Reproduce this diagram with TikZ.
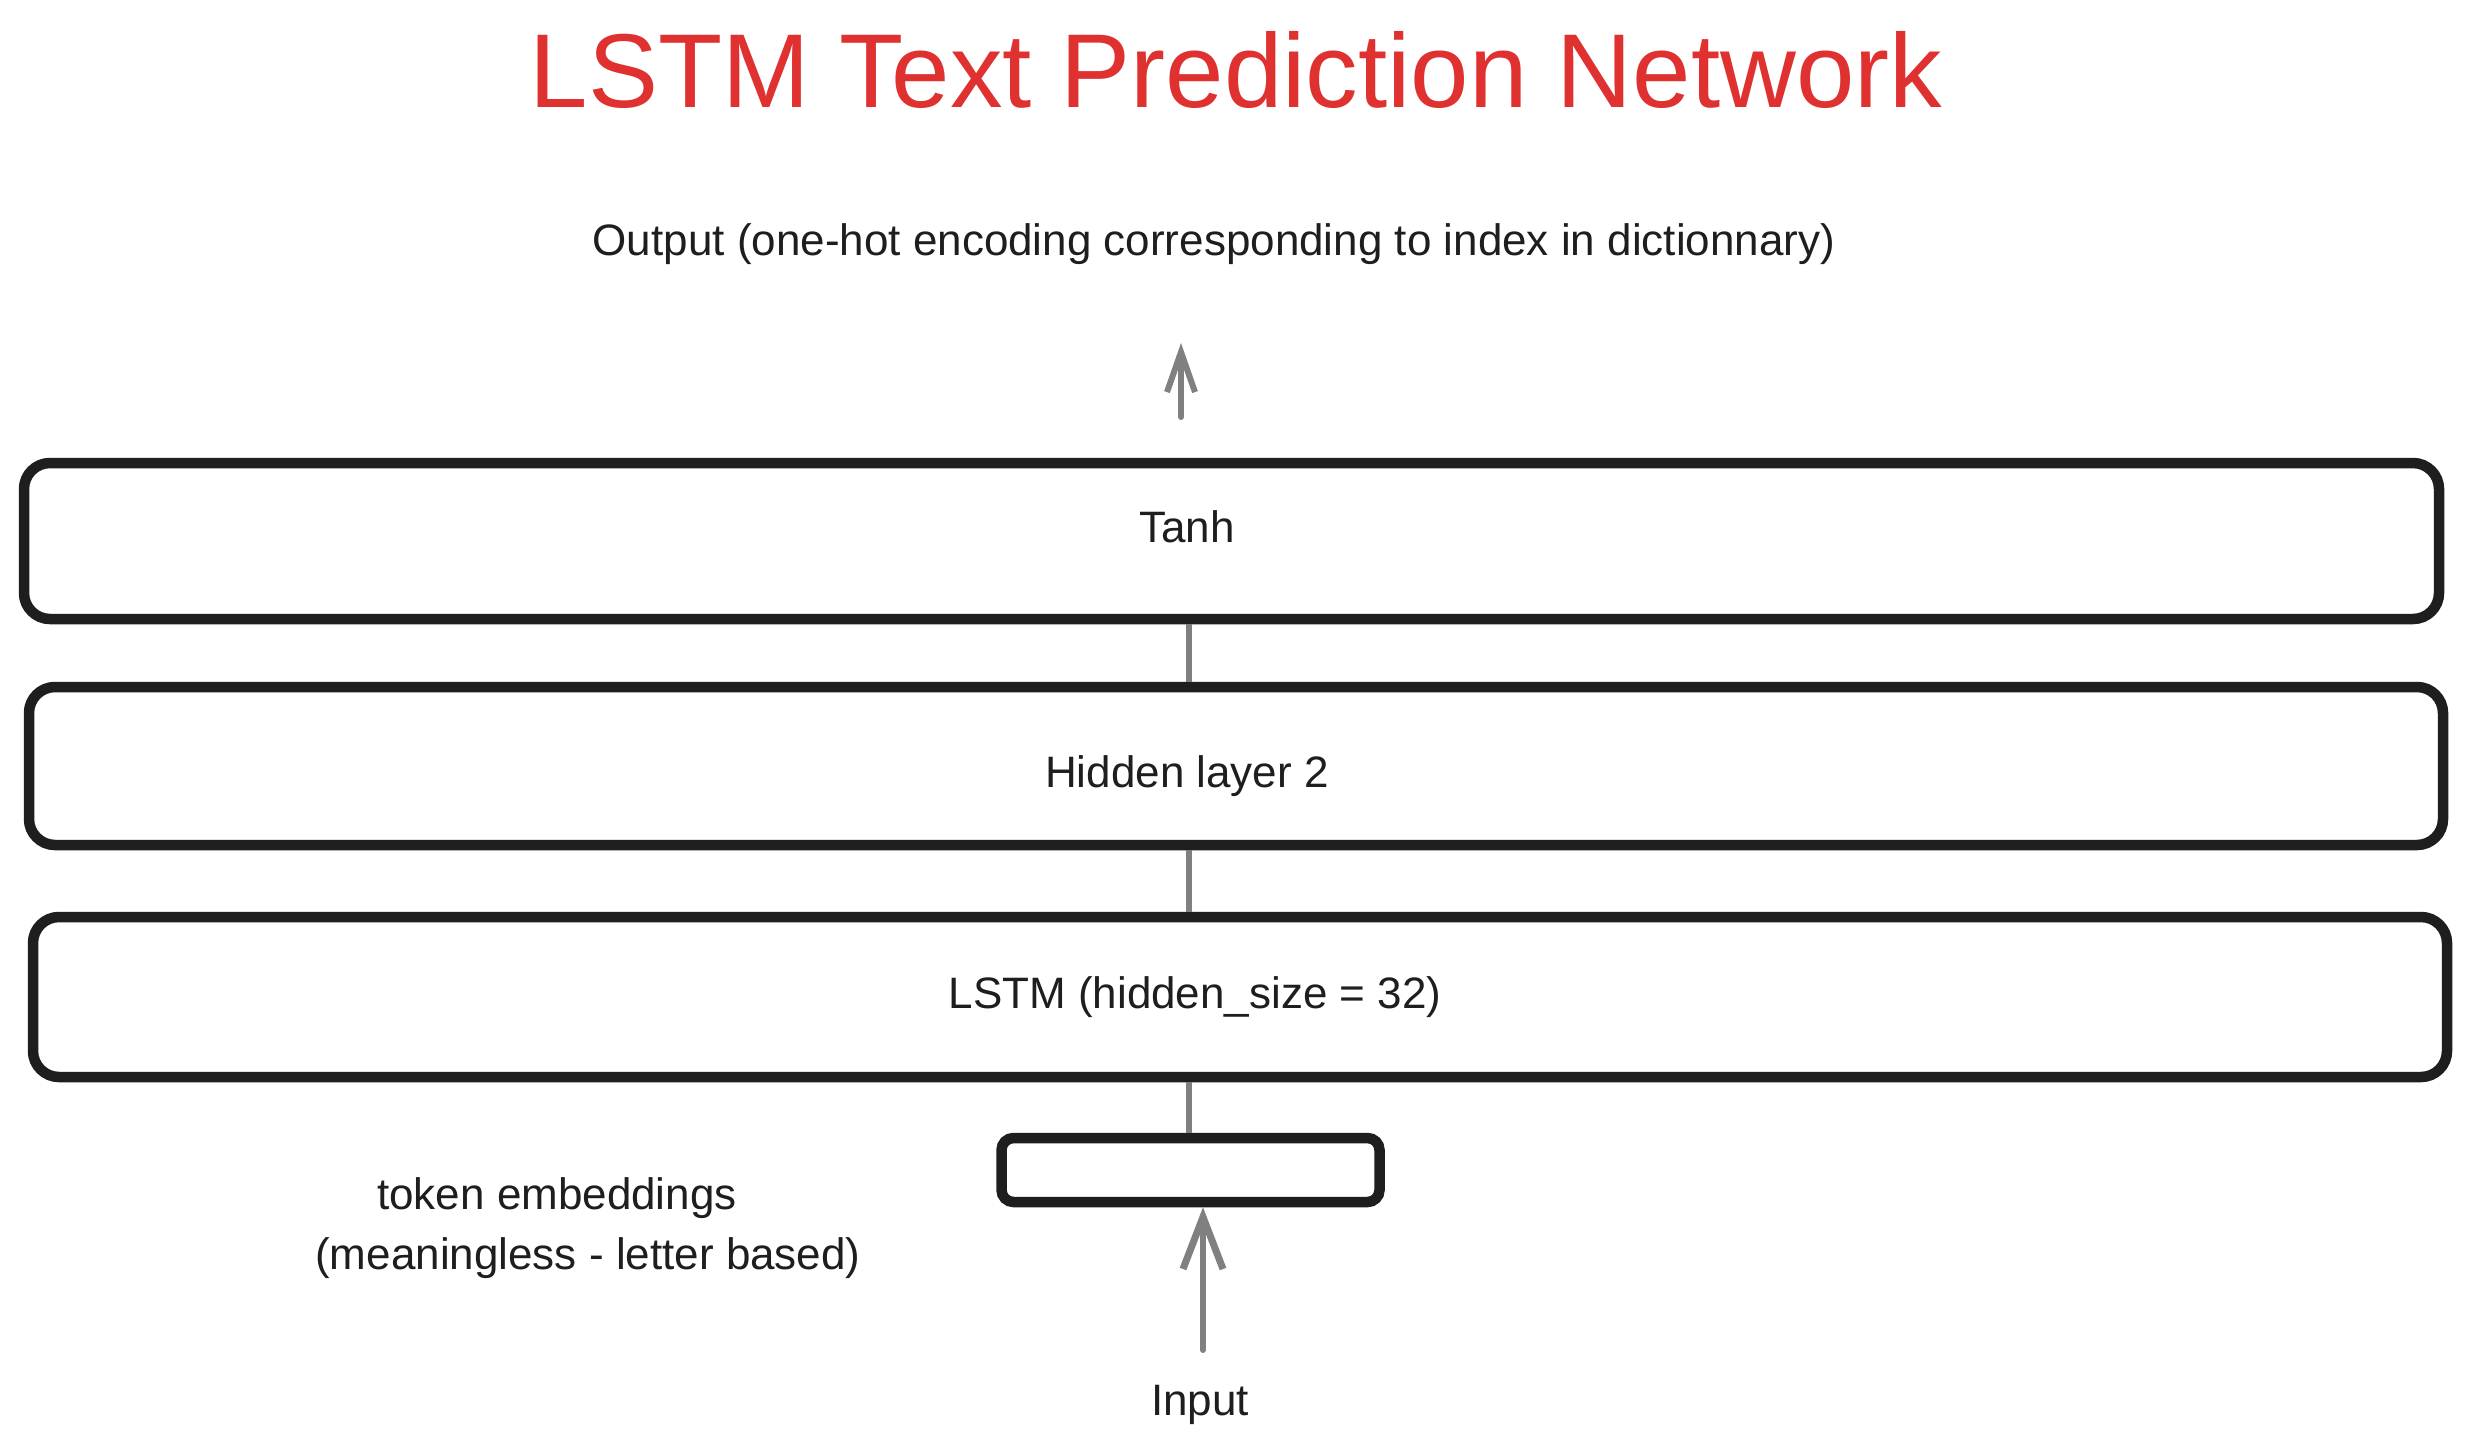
\documentclass[tikz,border=0pt]{standalone}
\usepackage{fontspec}
\setmainfont{Liberation Sans}
\usetikzlibrary{arrows.meta}
\definecolor{ink}{HTML}{1E1E1E}
\definecolor{titlered}{HTML}{E03131}
\definecolor{arrowgray}{HTML}{808080}
\begin{document}
\begin{tikzpicture}[x=1pt,y=-1pt,
  layer/.style={draw=ink, line width=10.5pt, rounded corners=26pt, rectangle, inner sep=0pt, fill=white},
  lbl/.style={text=ink, font=\fontsize{44}{52}\selectfont, anchor=base, inner sep=0pt},
  titletext/.style={text=titlered, font=\fontsize{105}{124}\selectfont, anchor=base, inner sep=0pt},
  conn/.style={draw=arrowgray, line width=6pt, line cap=round},
  arrsmall/.style={conn, -{Straight Barb[length=40pt,width=28pt,line width=6pt]}},
  arrbig/.style={conn, -{Straight Barb[length=52pt,width=40pt,line width=7pt]}}
]
\useasboundingbox (0,0) rectangle (2469,1448);
\fill[white] (0,0) rectangle (2469,1448);

% title and labels
\node[titletext] (title) at (1236,107) {LSTM Text Prediction Network};
\node[lbl] (output) at (1214,255) {Output (one-hot encoding corresponding to index in dictionnary)};

% layer boxes
\node[layer, minimum width=2415pt, minimum height=156pt] (tanh) at (1231.5,541) {};
\node[layer, minimum width=2414pt, minimum height=158pt] (hidden) at (1236,766) {};
\node[layer, minimum width=2414pt, minimum height=160pt] (lstm) at (1240,997) {};
\node[layer, rounded corners=12pt, minimum width=378pt, minimum height=64pt] (emb) at (1190.5,1170) {};

\node[lbl] (tanhT) at (1187,542) {Tanh};
\node[lbl] (hidT) at (1187,787) {Hidden layer 2};
\node[lbl] (lstmT) at (1195,1008) {LSTM (hidden\_size = 32)};
\node[lbl] (embT1) at (557,1209) {token embeddings};
\node[lbl] (embT2) at (588,1269) {(meaningless - letter based)};
\node[lbl] (input) at (1200,1415) {Input};

% connectors
\coordinate (spine) at (1189,0);
\draw[conn, line cap=butt] (spine |- hidden.north) -- (spine |- tanh.south);
\draw[conn, line cap=butt] (spine |- lstm.north) -- (spine |- hidden.south);
\draw[conn, line cap=butt] (spine |- emb.north) -- (spine |- lstm.south);

\coordinate (outTail) at (1181,417);
\coordinate (outHead) at (1181,343);
\draw[arrsmall] (outTail) -- (outHead);

\coordinate (inTail) at (1203,1350);
\draw[arrbig] (inTail) -- (inTail |- emb.south);
\end{tikzpicture}
\end{document}
